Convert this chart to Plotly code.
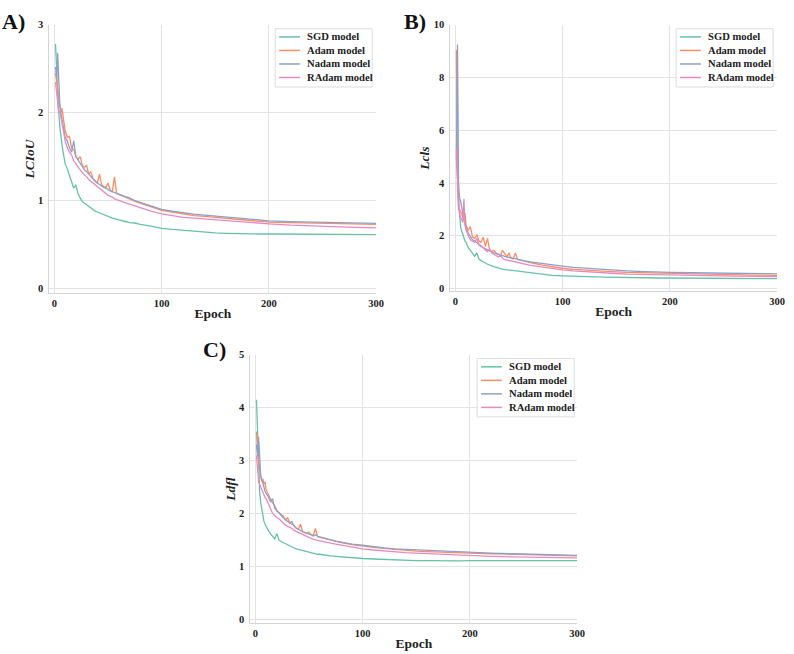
import plotly.graph_objects as go

# ---------------- data ----------------
epochs = [1, 2, 3, 4, 5, 6, 7, 8, 9, 10, 12, 14, 16, 18, 20, 22, 24, 26, 28, 30,
          32, 34, 36, 38, 40, 42, 44, 46, 48, 50, 52, 54, 56, 58, 60, 65, 70, 75, 80, 90,
          100, 110, 120, 130, 140, 150, 160, 170, 180, 190, 200, 220, 240, 260, 280, 300]

models = ["SGD model", "Adam model", "Nadam model", "RAdam model"]

# Panel A: LCIoU
ciou_sgd = [2.78, 2.5, 2.2, 2.0, 1.85, 1.72, 1.64, 1.56, 1.48, 1.42, 1.36, 1.28, 1.22, 1.14, 1.18, 1.08, 1.03, 0.99, 0.97, 0.95,
            0.93, 0.91, 0.9, 0.88, 0.87, 0.86, 0.845, 0.835, 0.83, 0.82, 0.81, 0.8, 0.795, 0.785, 0.78, 0.765, 0.75, 0.745, 0.73, 0.71,
            0.685, 0.672, 0.662, 0.648, 0.638, 0.632, 0.627, 0.622, 0.62, 0.62, 0.62, 0.618, 0.615, 0.614, 0.613, 0.612]
ciou_adam = [2.45, 2.35, 2.3, 2.15, 2.05, 2.0, 2.05, 1.95, 1.85, 1.8, 1.72, 1.73, 1.6, 1.58, 1.5, 1.47, 1.5, 1.4, 1.38, 1.4,
             1.3, 1.33, 1.25, 1.23, 1.2, 1.3, 1.18, 1.16, 1.15, 1.2, 1.12, 1.1, 1.27, 1.08, 1.07, 1.05, 1.02, 0.99, 0.97, 0.93,
             0.89, 0.87, 0.85, 0.83, 0.82, 0.81, 0.8, 0.79, 0.775, 0.765, 0.755, 0.75, 0.745, 0.74, 0.735, 0.73]
ciou_nadam = [2.52, 2.4, 2.68, 2.3, 2.1, 2.0, 1.92, 1.85, 1.75, 1.72, 1.68, 1.6, 1.55, 1.68, 1.5, 1.46, 1.42, 1.38, 1.35, 1.33,
              1.3, 1.27, 1.24, 1.22, 1.2, 1.18, 1.16, 1.15, 1.14, 1.13, 1.11, 1.1, 1.09, 1.08, 1.07, 1.05, 1.03, 1.0, 0.98, 0.94,
              0.9, 0.88, 0.86, 0.845, 0.835, 0.825, 0.81, 0.8, 0.79, 0.78, 0.77, 0.76, 0.755, 0.75, 0.745, 0.74]
ciou_radam = [2.35, 2.2, 2.05, 2.0, 2.02, 1.95, 1.85, 1.8, 1.72, 1.68, 1.6, 1.55, 1.52, 1.45, 1.42, 1.38, 1.35, 1.32, 1.3, 1.27,
              1.24, 1.22, 1.19, 1.17, 1.15, 1.13, 1.12, 1.1, 1.08, 1.06, 1.05, 1.04, 1.02, 1.01, 1.0, 0.98, 0.96, 0.94, 0.92, 0.88,
              0.85, 0.83, 0.81, 0.8, 0.79, 0.78, 0.77, 0.76, 0.75, 0.74, 0.735, 0.72, 0.71, 0.7, 0.695, 0.69]

# Panel B: Lcls
cls_sgd = [4.9, 4.2, 3.2, 2.8, 2.3, 2.15, 2.0, 1.9, 1.8, 1.75, 1.55, 1.45, 1.33, 1.22, 1.35, 1.12, 1.06, 1.0, 0.97, 0.92,
           0.9, 0.86, 0.83, 0.8, 0.78, 0.76, 0.74, 0.72, 0.71, 0.7, 0.68, 0.67, 0.66, 0.65, 0.64, 0.6, 0.58, 0.56, 0.54, 0.5,
           0.48, 0.46, 0.45, 0.44, 0.43, 0.42, 0.415, 0.41, 0.405, 0.4, 0.4, 0.395, 0.39, 0.385, 0.38, 0.375]
cls_adam = [9.05, 3.8, 3.0, 3.0, 2.9, 2.8, 2.7, 2.6, 2.85, 2.4, 2.2, 2.35, 1.95, 1.9, 2.05, 1.8, 1.75, 1.95, 1.6, 1.9,
            1.45, 1.4, 1.45, 1.35, 1.3, 1.25, 1.45, 1.3, 1.2, 1.35, 1.15, 1.12, 1.35, 1.1, 1.08, 1.02, 0.98, 0.94, 0.9, 0.83,
            0.77, 0.73, 0.7, 0.67, 0.65, 0.63, 0.61, 0.6, 0.59, 0.58, 0.57, 0.55, 0.535, 0.52, 0.51, 0.5]
cls_nadam = [4.9, 9.25, 4.0, 3.4, 3.3, 3.0, 2.8, 2.6, 2.5, 2.3, 2.1, 1.95, 1.85, 1.8, 1.75, 1.68, 1.62, 1.55, 1.5, 1.48,
             1.42, 1.38, 1.35, 1.33, 1.3, 1.27, 1.25, 1.22, 1.2, 1.18, 1.16, 1.14, 1.12, 1.1, 1.09, 1.05, 1.01, 0.98, 0.95, 0.89,
             0.85, 0.8, 0.77, 0.74, 0.71, 0.69, 0.67, 0.65, 0.63, 0.62, 0.61, 0.6, 0.59, 0.58, 0.57, 0.56]
cls_radam = [5.3, 4.2, 3.2, 2.8, 2.7, 2.6, 2.5, 3.4, 2.4, 2.2, 2.0, 1.85, 1.8, 1.75, 1.9, 1.65, 1.6, 1.55, 1.45, 1.4,
             1.5, 1.35, 1.3, 1.25, 1.2, 1.25, 1.15, 1.1, 1.08, 1.06, 1.04, 1.02, 1.0, 0.98, 0.96, 0.92, 0.88, 0.85, 0.82, 0.76,
             0.71, 0.67, 0.64, 0.61, 0.59, 0.57, 0.55, 0.54, 0.53, 0.52, 0.51, 0.49, 0.48, 0.47, 0.46, 0.45]

# Panel C: Ldfl
dfl_sgd = [4.15, 3.4, 2.8, 2.4, 2.2, 2.05, 1.95, 1.85, 1.8, 1.75, 1.68, 1.62, 1.58, 1.52, 1.62, 1.5, 1.47, 1.45, 1.42, 1.4,
           1.38, 1.36, 1.35, 1.33, 1.32, 1.31, 1.3, 1.29, 1.27, 1.27, 1.26, 1.25, 1.24, 1.23, 1.23, 1.21, 1.2, 1.19, 1.18, 1.16,
           1.15, 1.14, 1.13, 1.12, 1.115, 1.11, 1.11, 1.105, 1.1, 1.105, 1.11, 1.11, 1.11, 1.11, 1.11, 1.11]
dfl_adam = [3.55, 3.1, 3.0, 2.8, 2.7, 2.6, 2.65, 2.55, 2.6, 2.45, 2.35, 2.28, 2.2, 2.15, 2.05, 2.02, 1.98, 1.95, 1.88, 1.92,
            1.82, 1.8, 1.78, 1.72, 1.7, 1.8, 1.66, 1.64, 1.62, 1.65, 1.6, 1.58, 1.72, 1.56, 1.55, 1.52, 1.49, 1.47, 1.45, 1.41,
            1.38, 1.36, 1.34, 1.32, 1.3, 1.29, 1.28, 1.27, 1.26, 1.255, 1.25, 1.24, 1.23, 1.22, 1.21, 1.2]
dfl_nadam = [3.3, 3.1, 3.45, 2.9, 2.7, 2.65, 2.55, 2.5, 2.42, 2.38, 2.32, 2.22, 2.28, 2.1, 2.05, 2.0, 1.96, 1.92, 1.88, 1.85,
             1.82, 1.85, 1.76, 1.73, 1.7, 1.68, 1.66, 1.64, 1.62, 1.61, 1.6, 1.58, 1.6, 1.57, 1.56, 1.53, 1.5, 1.48, 1.46, 1.42,
             1.4, 1.37, 1.35, 1.33, 1.32, 1.31, 1.3, 1.29, 1.28, 1.27, 1.26, 1.25, 1.24, 1.23, 1.22, 1.21]
dfl_radam = [3.1, 2.9, 2.6, 2.55, 2.5, 2.45, 2.38, 2.35, 2.3, 2.28, 2.2, 2.1, 2.0, 1.95, 1.92, 1.9, 1.85, 1.82, 1.78, 1.76,
             1.74, 1.72, 1.68, 1.66, 1.64, 1.62, 1.6, 1.58, 1.56, 1.54, 1.52, 1.51, 1.5, 1.49, 1.48, 1.46, 1.44, 1.42, 1.4, 1.36,
             1.33, 1.31, 1.29, 1.28, 1.26, 1.25, 1.24, 1.23, 1.22, 1.21, 1.2, 1.19, 1.18, 1.17, 1.165, 1.16]

x_ticks = [0, 100, 200, 300]
ticks_a = [0, 1, 2, 3]
ticks_b = [0, 2, 4, 6, 8, 10]
ticks_c = [0, 1, 2, 3, 4, 5]

# ---------------- style ----------------
colors = ["#66c2a5", "#fc8d62", "#8da0cb", "#e78ac3"]
W, H = 794, 654
FONT = "Liberation Serif, Times New Roman, serif"

def px_x(v):
    return v / W

def px_y(v):
    return 1 - v / H

panels = [
    # series, xaxis id, yaxis id, box(left, top, right, bottom) px, yrange, yticks, ytitle, legend box origin
    ([ciou_sgd, ciou_adam, ciou_nadam, ciou_radam], "x", "y",
     (50, 20, 380, 292), [-0.056, 3], ticks_a, "<b><i>LCIoU</i></b>", (278, 24)),
    ([cls_sgd, cls_adam, cls_nadam, cls_radam], "x2", "y2",
     (455, 20, 785, 290), [-0.11, 10], ticks_b, "<b><i>Lcls</i></b>", (683, 24)),
    ([dfl_sgd, dfl_adam, dfl_nadam, dfl_radam], "x3", "y3",
     (253, 354, 583, 626), [-0.075, 5], ticks_c, "<b><i>Ldfl</i></b>", (482, 358)),
]

fig = go.Figure()
layout = dict(
    width=W, height=H, margin=dict(l=0, r=0, t=0, b=0),
    paper_bgcolor="white", plot_bgcolor="white",
    font=dict(family=FONT, color="#222", size=10),
    annotations=[], shapes=[], showlegend=False,
)

for i, (series, xa, ya, box, yr, yt, ytitle, lgpos) in enumerate(panels):
    for s, vals in enumerate(series):
        fig.add_trace(go.Scatter(
            x=epochs, y=vals, mode="lines", name=models[s],
            line=dict(color=colors[s], width=1.3),
            xaxis=xa, yaxis=ya,
        ))
    l, t, r, b = box
    xkey = "xaxis" if i == 0 else f"xaxis{i+1}"
    ykey = "yaxis" if i == 0 else f"yaxis{i+1}"
    layout[xkey] = dict(
        domain=[px_x(l), px_x(r)], range=[-4.6, 300], anchor=ya,
        tickvals=x_ticks, showgrid=True, gridcolor="#e3e3e3", gridwidth=1,
        zeroline=False, showline=True, linecolor="#d4d4d4", linewidth=1.2,
        ticks="", ticklabelstandoff=0,
        tickfont=dict(family=FONT, size=10.5, color="#222", weight="bold"),
        title=dict(text="<b>Epoch</b>", standoff=0,
                   font=dict(family=FONT, size=13.5, color="#222")),
    )
    layout[ykey] = dict(
        domain=[px_y(b), px_y(t)], range=yr, anchor=xa,
        tickvals=yt, showgrid=True, gridcolor="#e3e3e3", gridwidth=1,
        zeroline=False, showline=True, linecolor="#d4d4d4", linewidth=1.2,
        ticks="", ticklabelstandoff=3,
        tickfont=dict(family=FONT, size=10.5, color="#222", weight="bold"),
        title=dict(text=ytitle, standoff=0,
                   font=dict(family=FONT, size=13.5, color="#222")),
    )
    # legend box drawn in paper space
    lx, ly = lgpos
    layout["shapes"].append(dict(
        type="rect", xref="paper", yref="paper",
        x0=px_x(lx), x1=px_x(lx + 98), y0=px_y(ly + 59), y1=px_y(ly),
        line=dict(color="#dddddd", width=1), fillcolor="rgba(255,255,255,0.9)",
        layer="above",
    ))
    for s, m in enumerate(models):
        yy = ly + 8.3 + s * 13.7
        layout["shapes"].append(dict(
            type="line", xref="paper", yref="paper",
            x0=px_x(lx + 4), x1=px_x(lx + 25), y0=px_y(yy), y1=px_y(yy),
            line=dict(color=colors[s], width=1.5), layer="above",
        ))
        layout["annotations"].append(dict(
            text=f"<b>{m}</b>", x=px_x(lx + 30), y=px_y(yy), xref="paper", yref="paper",
            xanchor="left", yanchor="middle", showarrow=False,
            font=dict(family=FONT, size=10.6, color="#222"),
        ))

letters = [("A)", 0, 2), ("B)", 406, 2), ("C)", 203, 334)]
for txt, lx, ly in letters:
    layout["annotations"].append(dict(
        text=f"<b>{txt}</b>", x=px_x(lx), y=px_y(ly), xref="paper", yref="paper",
        xanchor="left", yanchor="top", showarrow=False,
        font=dict(family=FONT, size=22, color="#111"),
    ))

fig.update_layout(**layout)
fig.write_html("out.html")
